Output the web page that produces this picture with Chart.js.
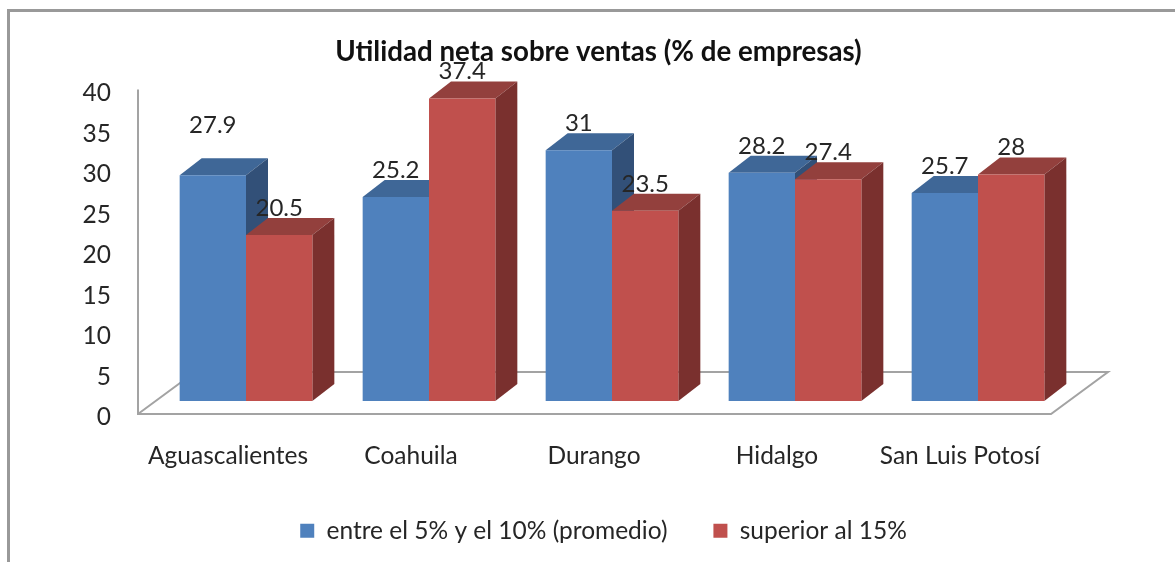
<!DOCTYPE html>
<html><head><meta charset="utf-8">
<script src="https://cdn.jsdelivr.net/npm/chart.js@4"></script>
<style>
html,body{margin:0;padding:0;background:#fff;overflow:hidden;width:1175px;height:562px}
#frame{position:absolute;left:7px;top:9px;width:1175px;height:600px;border:3px solid #999;box-sizing:border-box}
#c{position:absolute;left:22px;top:0}
</style></head><body>
<div id="frame"></div>
<canvas id="c" width="1153" height="562" style="width:1153px;height:562px"></canvas>
<script>
const titleText = 'Utilidad neta sobre ventas (% de empresas)';
const categories = ['Aguascalientes','Coahuila','Durango','Hidalgo','San Luis Potosí'];
const seriesNames = ['entre el 5% y el 10% (promedio)','superior al 15%'];
const seriesA = [27.9,25.2,31,28.2,25.7];
const seriesB = [20.5,37.4,23.5,27.4,28];
const yTicks = [0,5,10,15,20,25,30,35,40];
const frontColors = ['#4f81bd','#c0504d'];
const topColors = ['#3f6797','#93403d'];
const sideColors = ['#325078','#7a302e'];
const FONT = 'Lato, "Open Sans", sans-serif';
const TEXT = '#262626';
const DEPTH_X = 22, DEPTH_Y = 17, FLOOR_X = 57, FLOOR_Y = 42, WALL_GAP = 16.5, LINE_SHIFT = 3.5;

const threeD = {
  id:'threeD',
  afterLayout(chart){ const l=chart.legend; l.left += 10; l.top -= 9; },
  beforeDatasetsDraw(chart){
    const {ctx, chartArea:a, scales:{axis}} = chart;
    const y0 = axis.getPixelForValue(0) - LINE_SHIFT, y40 = axis.getPixelForValue(40) - LINE_SHIFT;
    const xl = a.left - WALL_GAP, xr = a.right - 18.5;
    ctx.save();
    ctx.strokeStyle = '#a3a3a3'; ctx.lineWidth = 2; ctx.lineJoin='miter';
    ctx.beginPath();
    ctx.moveTo(xl,y40); ctx.lineTo(xl,y0); ctx.lineTo(xr,y0);
    ctx.lineTo(xr+FLOOR_X,y0-FLOOR_Y); ctx.lineTo(xl+FLOOR_X,y0-FLOOR_Y); ctx.lineTo(xl,y0);
    ctx.stroke();
    chart.data.datasets.forEach((ds,i)=>{
      chart.getDatasetMeta(i).data.forEach(bar=>{
        const L=bar.x-bar.width/2, R=bar.x+bar.width/2, T=bar.y, B=bar.base;
        ctx.fillStyle = topColors[i];
        ctx.beginPath(); ctx.moveTo(L,T); ctx.lineTo(L+DEPTH_X,T-DEPTH_Y); ctx.lineTo(R+DEPTH_X,T-DEPTH_Y); ctx.lineTo(R,T); ctx.closePath(); ctx.fill();
        ctx.fillStyle = sideColors[i];
        ctx.beginPath(); ctx.moveTo(R,T); ctx.lineTo(R+DEPTH_X,T-DEPTH_Y); ctx.lineTo(R+DEPTH_X,B-DEPTH_Y); ctx.lineTo(R,B); ctx.closePath(); ctx.fill();
      });
    });
    ctx.restore();
  },
  afterDatasetsDraw(chart){
    const {ctx} = chart;
    ctx.save();
    ctx.font = '24px '+FONT; ctx.fillStyle = TEXT; ctx.textAlign='center'; ctx.textBaseline='middle';
    chart.data.datasets.forEach((ds,i)=>{
      chart.getDatasetMeta(i).data.forEach((bar,j)=>{
        const lift = (i===0 && j===0) ? 50 : 27;
        ctx.fillText(String(ds.data[j]), bar.x, bar.y - lift);
      });
    });
    ctx.restore();
  }
};

new Chart(document.getElementById('c'),{
  type:'bar',
  data:{labels:categories,datasets:[
    {label:seriesNames[0],data:seriesA,backgroundColor:frontColors[0],yAxisID:'y'},
    {label:seriesNames[1],data:seriesB,backgroundColor:frontColors[1],yAxisID:'y'}
  ]},
  options:{
    responsive:false,animation:false,
    categoryPercentage:0.725,barPercentage:1,
    layout:{padding:0},
    scales:{
      x:{grid:{display:false},border:{display:false},
         afterFit(s){s.height=64;},
         ticks:{font:{family:FONT,size:24.5},color:TEXT,padding:15.8,labelOffset:-18,maxRotation:0,autoSkip:false}},
      axis:{axis:'y',position:'left',min:0,max:41.94,
         grid:{display:false},border:{display:false},
         afterFit(s){s.width=132.5;},
         afterBuildTicks(s){s.ticks=yTicks.map(v=>({value:v}));},
         ticks:{autoSkip:false,font:{family:FONT,size:24.5},color:TEXT,padding:35.5}},
      y:{position:'right',min:-2.042,max:40,
         grid:{display:false},border:{display:false},
         afterFit(s){s.width=105.5;},
         ticks:{display:false}}
    },
    plugins:{
      title:{display:true,text:titleText,color:'#111',font:{family:FONT,size:27.7,weight:'bold'},padding:{top:35.5,bottom:8.6}},
      legend:{position:'bottom',labels:{boxWidth:14,boxHeight:14,padding:46,color:TEXT,font:{family:FONT,size:24.5}}},
      tooltip:{enabled:false}
    }
  },
  plugins:[threeD]
});
</script></body></html>
